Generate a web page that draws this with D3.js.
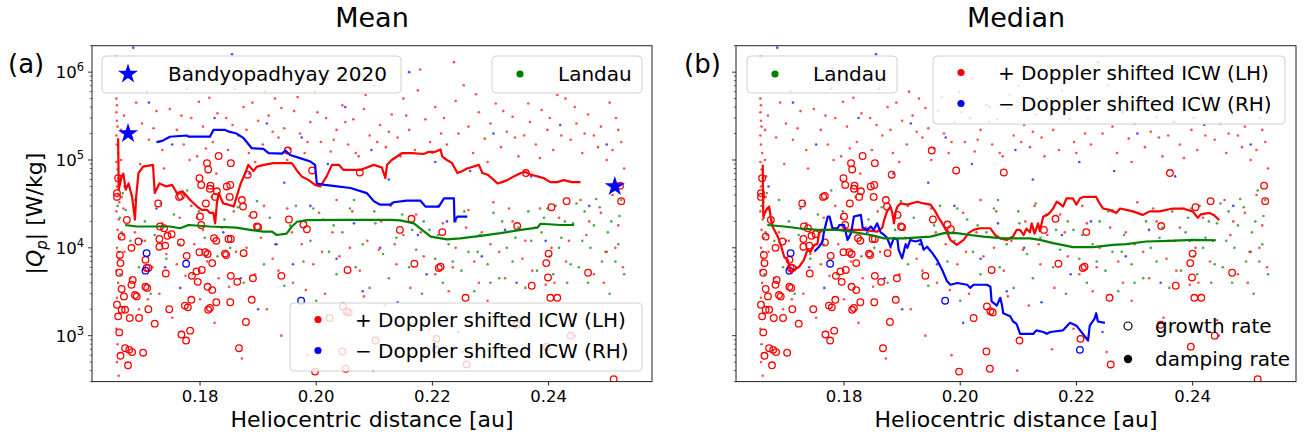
<!DOCTYPE html>
<html>
<head>
<meta charset="utf-8">
<script src="https://cdn.jsdelivr.net/npm/d3@7"></script>
<style>
body { margin: 0; background: #fff; }
svg { font-family: "DejaVu Sans", sans-serif; }
</style>
</head>
<body>
<svg id="chart" width="1315" height="441"></svg>
<script>
// individual events, same in both panels: [distance au, |Qp| W/kg]
const redDots = [
[0.1656,5.0e5],[0.1657,4.2e5],[0.1656,3.5e5],[0.1657,2.8e5],[0.1658,2.4e5],[0.1656,1.9e5],[0.1657,1.5e5],[0.1659,1.2e5],[0.1656,9.5e4],[0.1658,7.8e4],
[0.1660,6.2e4],[0.1657,5.0e4],[0.1659,4.1e4],[0.1661,3.3e4],[0.1656,2.6e4],[0.1660,2.1e4],[0.1658,1.6e4],[0.1662,1.3e4],[0.1657,1.0e4],[0.1660,7.5e3],
[0.1656,5.5e3],[0.1659,4.0e3],[0.1657,2.7e3],[0.1661,1.8e3],[0.1656,1.2e3],[0.1658,8.0e2],[0.1657,5.0e2],[0.1660,3.5e2],[0.1664,1.0e5],[0.1666,6.5e4],
[0.1665,3.8e4],[0.1668,2.8e4],[0.1667,1.4e4],[0.1670,9.0e3],[0.1664,2.2e5],[0.1669,3.2e5],[0.1656,1.5e6],
[0.1690,4.5e5],[0.1700,2.6e5],[0.1712,1.7e5],[0.1725,3.6e5],[0.1735,1.3e5],[0.1748,3.8e5],[0.1760,2.2e5],[0.1772,1.5e5],[0.1778,6.5e5],[0.1785,3.0e5],
[0.1795,1.1e5],[0.1805,2.4e5],[0.1816,5.1e5],[0.1822,1.6e5],[0.1830,3.4e5],[0.1840,8.0e5],[0.1848,1.3e5],[0.1856,2.5e5],[0.1866,1.9e5],[0.1875,4.0e5],
[0.1884,1.2e5],[0.1890,4.5e5],[0.1900,2.8e5],[0.1908,1.5e5],[0.1918,3.2e5],[0.1929,5.0e5],[0.1935,1.8e5],[0.1945,2.3e5],[0.1955,1.35e5],[0.1962,3.6e5],
[0.1972,2.0e5],[0.1980,1.2e5],[0.1990,2.7e5],[0.1998,6.0e5],[0.2008,1.6e5],[0.2017,3.0e5],[0.2025,1.25e5],[0.2035,2.2e5],[0.2045,4.2e5],[0.2055,1.5e5],
[0.2064,2.9e5],[0.2073,1.1e5],[0.2082,3.8e5],[0.2092,1.9e5],[0.2100,7.0e5],[0.2110,2.5e5],[0.2120,1.4e5],[0.2130,3.3e5],[0.2140,1.8e5],[0.2150,5.0e5],
[0.2160,2.2e5],[0.2170,1.3e5],[0.2179,1.07e6],[0.2188,2.9e5],[0.2196,1.6e5],[0.2205,4.0e5],[0.2215,2.0e5],[0.2225,1.5e5],[0.2237,1.3e6],[0.2240,4.7e5],
[0.2254,7.1e5],[0.2262,2.4e5],[0.2270,1.2e5],[0.2280,3.5e5],[0.2290,1.75e5],[0.2300,2.6e5],[0.2309,4.4e5],[0.2318,1.4e5],[0.2328,2.1e5],[0.2338,3.1e5],
[0.2348,1.1e5],[0.2358,1.9e5],[0.2368,2.7e5],[0.2378,1.5e5],[0.2388,3.7e5],[0.2398,2.2e5],[0.2408,1.3e5],[0.2415,5.5e5],[0.2429,5.0e5],[0.2438,1.7e5],
[0.2448,2.6e5],[0.2458,1.2e5],[0.2468,3.3e5],[0.2478,1.9e5],[0.2490,2.4e5],[0.2500,1.0e5],[0.2510,1.3e5],[0.2516,3.0e5],[0.2525,1.6e5],[0.2530,8.0e4],
[0.1683,1.8e5],[0.1697,9.0e4],[0.1708,6.0e5],[0.1720,2.3e5],[0.1738,8.0e4],[0.1755,1.1e6],[0.1768,3.2e5],[0.1782,1.0e5],[0.1798,4.6e5],[0.1810,1.35e5],
[0.1828,7.0e4],[0.1845,3.0e5],[0.1860,6.5e5],[0.1880,2.2e5],[0.1895,9.5e4],[0.1912,6.0e5],[0.1925,2.1e5],[0.1940,3.9e5],[0.1950,1.0e5],[0.1968,5.2e5],
[0.1985,1.6e5],[0.2002,3.5e5],[0.2020,8.5e5],[0.2030,1.7e5],[0.2050,2.7e5],[0.2068,1.2e5],[0.2085,5.5e5],[0.2105,1.6e5],[0.2125,2.1e5],[0.2145,1.1e5],
[0.2155,3.2e5],[0.2175,6.2e5],[0.2200,1.2e5],[0.2220,3.0e5],[0.2245,2.0e5],[0.2275,5.6e5],[0.2295,9.5e4],[0.2322,3.6e5],[0.2342,1.8e5],[0.2365,4.4e5],
[0.2385,1.05e5],[0.2402,3.0e5],[0.2422,1.9e5],[0.2445,4.0e5],[0.2462,2.0e5],[0.2485,1.4e5],[0.2505,4.5e5],[0.2520,2.2e5],
[0.1680,4.5e3],[0.1695,2.0e3],[0.1705,1.2e4],[0.1718,6.0e3],[0.1730,3.0e3],[0.1742,8.5e3],[0.1752,1.6e3],[0.1765,2.2e4],[0.1775,4.8e3],[0.1790,1.1e4],
[0.1800,2.6e3],[0.1812,7.0e3],[0.1825,1.4e3],[0.1838,1.7e4],[0.1850,3.6e3],[0.1862,9.0e3],[0.1872,5.5e2],[0.1885,2.3e4],[0.1895,5.0e3],[0.1905,1.3e4],
[0.1915,2.0e3],[0.1925,7.5e3],[0.1940,1.0e3],[0.1950,2.8e4],[0.1960,4.0e3],[0.1975,1.1e4],[0.1985,6.0e2],[0.1995,6.5e3],[0.2005,2.5e4],[0.2015,3.0e3],
[0.2028,1.5e4],[0.2040,8.0e3],[0.2050,1.8e3],[0.2062,2.6e4],[0.2075,5.5e3],[0.2088,1.2e4],[0.2098,4.0e2],[0.2108,9.5e3],[0.2118,2.2e3],[0.2128,3.0e4],
[0.2138,6.5e3],[0.2150,1.4e4],[0.2162,3.5e3],[0.2172,2.4e4],[0.2185,8.0e3],[0.2195,1.2e3],[0.2205,5.0e3],[0.2218,1.9e4],[0.2228,3.2e3],[0.2240,1.0e4],
[0.2252,6.5e2],[0.2262,2.7e4],[0.2272,7.0e3],[0.2285,1.5e4],[0.2295,2.5e3],[0.2305,3.3e4],[0.2315,9.0e3],[0.2325,4.5e3],[0.2338,2.0e4],[0.2350,1.6e3],
[0.2360,1.2e4],[0.2372,5.5e3],[0.2385,2.8e4],[0.2395,3.8e3],[0.2405,1.0e4],[0.2418,2.2e4],[0.2430,7.0e3],[0.2442,1.5e3],[0.2455,3.5e4],[0.2465,1.4e4],
[0.2478,5.0e3],[0.2490,2.5e4],[0.2500,9.0e3],[0.2510,4.0e4],[0.2520,1.8e4],[0.2528,6.0e3],
[0.1688,1.5e4],[0.1710,2.6e3],[0.1735,1.9e4],[0.1760,6.5e3],[0.1785,3.0e4],[0.1805,1.6e4],[0.1832,4.5e3],[0.1858,2.6e4],[0.1880,1.0e4],[0.1910,3.0e4],
[0.1935,5.5e3],[0.1958,1.5e4],[0.1982,3.3e3],[0.2010,9.0e3],[0.2035,3.5e4],[0.2058,1.0e4],[0.2082,2.8e3],[0.2112,2.0e4],[0.2135,1.1e4],[0.2158,7.0e2],
[0.2180,1.5e4],[0.2210,3.0e4],[0.2235,6.0e3],[0.2258,1.7e4],[0.2280,4.0e3],[0.2300,1.1e4],[0.2332,2.8e4],[0.2355,7.5e3],[0.2378,1.7e4],[0.2410,4.0e3],
[0.2435,1.2e4],[0.2470,2.0e4],[0.2495,4.0e3],[0.2515,1.0e4]
];
const greenDots = [
[0.1658,3.0e4],[0.1662,2.2e4],[0.1665,1.5e4],[0.1660,9.0e3],[0.1663,5.0e3],[0.1667,4.2e4],[0.1672,2.7e4],[0.1680,1.2e4],[0.1688,3.5e4],[0.1695,6.0e3],
[0.1705,2.0e4],[0.1715,3.0e3],[0.1722,1.4e4],[0.1732,3.2e4],[0.1742,7.5e3],[0.1755,2.4e4],[0.1765,1.1e4],[0.1778,4.5e4],[0.1788,5.0e3],[0.1798,2.6e4],
[0.1808,1.3e4],[0.1820,3.8e4],[0.1830,8.0e3],[0.1842,2.1e4],[0.1852,1.0e4],[0.1865,2.9e4],[0.1875,4.0e3],[0.1888,1.6e4],[0.1898,3.4e4],[0.1910,6.5e3],
[0.1920,2.2e4],[0.1932,1.1e4],[0.1945,3.7e3],[0.1955,1.8e4],[0.1965,3.0e4],[0.1978,7.0e3],[0.1990,1.2e4],[0.2000,2.5e3],[0.2012,2.1e4],[0.2022,9.0e3],
[0.2035,5.0e3],[0.2045,1.5e4],[0.2058,2.8e4],[0.2068,6.0e3],[0.2080,1.1e4],[0.2092,3.5e3],[0.2102,1.9e4],[0.2115,8.5e3],[0.2125,4.5e3],[0.2138,1.3e4],
[0.2148,2.4e4],[0.2160,6.0e3],[0.2172,9.5e3],[0.2182,3.0e3],[0.2195,1.6e4],[0.2205,7.5e3],[0.2218,4.0e3],[0.2228,1.1e4],[0.2240,2.0e4],[0.2250,5.5e3],
[0.2262,9.0e3],[0.2272,3.2e3],[0.2282,1.4e4],[0.2295,6.5e3],[0.2305,2.5e4],[0.2315,4.5e3],[0.2328,1.0e4],[0.2338,7.0e3],[0.2348,1.7e4],[0.2360,3.5e3],
[0.2370,1.2e4],[0.2380,5.5e3],[0.2392,2.2e4],[0.2402,8.0e3],[0.2412,3.0e4],[0.2422,1.3e4],[0.2432,4.0e3],[0.2442,1.9e4],[0.2452,6.0e3],[0.2462,2.6e4],
[0.2472,1.0e4],[0.2482,3.6e4],[0.2492,7.0e3],[0.2502,1.5e4],[0.2512,4.5e4],[0.2522,2.3e4],[0.2530,5.0e3],[0.2520,1.1e4],[0.2505,3.0e3],
[0.2388,1.5e4],[0.2398,2.8e4],[0.2408,5.0e3],[0.2418,1.0e4],[0.2428,2.0e4],[0.2438,6.5e3],[0.2448,3.2e4],[0.2458,1.2e4],[0.2468,4.0e3],[0.2478,1.8e4],
[0.2488,2.9e4],[0.2498,9.0e3],[0.2508,2.0e4],[0.2515,7.0e3],[0.2525,3.5e4],[0.2185,2.0e4],[0.2210,1.4e4],[0.2235,7.0e3],[0.2255,2.6e4],[0.2278,9.0e3],
[0.2300,4.0e3],[0.2320,2.0e4],[0.2343,1.3e4],[0.2365,2.6e4],[0.1995,2.8e4],[0.2030,1.8e4],[0.2065,3.5e4],[0.2100,2.6e4],[0.2130,3.2e4],[0.2165,1.6e4]
];
const blueDots = [
[0.1670,5.0e4],[0.1685,1.9e6],[0.1700,1.2e4],[0.1712,4.5e5],[0.1725,2.8e4],[0.1740,6.0e3],[0.1752,1.5e5],[0.1766,3.5e3],[0.1780,1.1e6],[0.1795,2.2e4],
[0.1810,8.0e3],[0.1825,3.0e5],[0.1840,1.5e4],[0.1855,1.6e6],[0.1870,4.5e3],[0.1885,7.0e4],[0.1900,2.0e3],[0.1915,2.6e5],[0.1930,1.1e4],[0.1945,5.5e4],
[0.1960,6.5e3],[0.1975,1.8e5],[0.1990,3.0e4],[0.2005,1.4e3],[0.2020,9.0e4],[0.2035,7.5e3],[0.2050,4.0e5],[0.2065,1.9e4],[0.2080,3.2e3],[0.2095,1.3e5],
[0.2110,1.0e4],[0.2125,6.0e4],[0.2140,2.4e3],[0.2160,1.0e6],[0.2175,1.4e4],[0.2190,5.0e3],[0.2205,9.5e4],[0.2225,2.0e4],[0.2245,1.1e3],[0.2265,7.5e4],
[0.2285,8.0e3],[0.2305,2.0e5],[0.2325,1.6e4],[0.2345,4.0e3],[0.2370,6.5e4],[0.2395,1.2e4],[0.2420,2.5e5],[0.2445,1.0e3],[0.2470,3.0e4],[0.2500,1.5e5]
];
// growth-rate events (open circles)
const redRings = [
[0.1674,2.08e4],[0.1665,1.34e4],[0.1662,8.3e3],[0.1663,6.7e3],[0.1661,5.2e3],[0.1665,3.4e3],[0.1669,2.8e3],[0.1657,2.25e3],[0.1665,1.97e3],[0.1671,1.97e3],
[0.1679,1.59e3],[0.1659,1.66e3],[0.1661,1.09e3],[0.1671,7.2e2],[0.1678,6.9e2],[0.1683,6.5e2],[0.1663,5.9e2],[0.1676,4.6e2],[0.1682,3.8e3],[0.1684,4.3e3],
[0.1688,2.9e3],[0.1691,2.8e3],[0.1694,1.18e4],[0.1695,1.59e3],[0.1682,1.0e4],[0.1702,6.4e2],[0.1706,7.3e3],[0.1708,5.9e3],[0.1711,5.9e3],[0.1706,3.6e3],
[0.1709,3.5e3],[0.1711,2.0e3],[0.1722,1.37e3],[0.1730,1.03e4],[0.1740,1.06e4],[0.1730,1.26e4],[0.1741,5.1e3],[0.1731,1.75e4],[0.1744,1.37e4],[0.1747,2.0e3],
[0.1751,1.43e4],[0.1738,1.67e4],[0.1768,1.03e3],[0.1767,1.15e4],[0.1774,2.2e3],[0.1779,2.1e3],[0.1777,8.1e3],[0.1776,8.8e2],[0.1783,1.14e3],[0.1786,4.8e3],
[0.1794,5.4e3],[0.1796,4.1e3],[0.1803,5.6e3],[0.1799,8.9e3],[0.1802,1.82e4],[0.1809,8.9e3],[0.1813,8.5e3],[0.1785,2.56e3],[0.1814,1.97e3],[0.1817,2.07e3],
[0.1813,3.6e3],[0.1821,3.3e3],[0.1824,1.29e4],[0.1828,1.2e4],[0.1821,6.7e3],[0.1828,2.4e3],[0.1843,8.6e3],[0.1845,8.3e3],[0.1849,1.26e4],[0.1853,1.26e4],
[0.1852,2.4e3],[0.1853,4.8e3],[0.1864,4.1e3],[0.1867,7.2e2],[0.1875,8.7e3],[0.1879,1.43e3],[0.1891,4.5e3],[0.1889,2.56e3],[0.1900,1.72e4],[0.1940,4.8e3],
[0.1953,2.1e4],[0.1998,3.9e2],
[0.1659,6.2e4],[0.1657,4.2e4],[0.1728,3.2e4],[0.1799,6.2e4],[0.1802,5.2e4],[0.1812,9.2e4],[0.1832,1.11e5],[0.1818,5.1e4],[0.1829,4.4e4],[0.1851,3.8e4],
[0.1846,5.0e4],[0.1852,5.2e4],[0.1810,3.2e4],[0.1882,6.8e4],[0.1874,2.95e4],[0.1892,2.37e4],[0.1800,2.27e4],[0.1767,3.9e4],[0.1853,9.2e4],[0.1814,7.8e4],
[0.1817,4.7e4],[0.1826,3.8e4],[0.1872,3.5e4],[0.1764,3.8e4],[0.1898,1.75e4],[0.1951,1.28e5],[0.1993,7.6e4],[0.2075,7.2e4],[0.1657,3.8e4],[0.1978,1.84e4],
[0.1984,1.63e4],
[0.2164,2.14e4],[0.2144,1.6e4],[0.2217,1.51e4],[0.2346,1.77e4],[0.2405,2.9e4],[0.2431,3.4e4],[0.2523,5.1e4],[0.2525,3.4e4],[0.2400,8.6e3],[0.2169,6.6e3],
[0.2054,5.6e3],[0.2211,5.9e3],[0.2214,6.1e3],[0.2396,6.7e3],[0.2399,4.6e3],[0.2371,3.7e3],[0.2403,2.7e3],[0.2415,2.7e3],[0.2468,5.2e3],[0.2257,2.7e3],
[0.2512,3.2e2],[0.2207,9.2e2],[0.2102,8.8e2],[0.2397,7.5e2],[0.2438,1.0e3],[0.2259,4.7e2],[0.2345,1.33e3],[0.2056,1.84e3],[0.2046,2.15e3],[0.2052,1.9e3],
[0.2023,1.59e3],[0.2045,6.6e2],[0.2051,4.2e2],[0.2361,7.1e4]
];
const blueRings = [[0.1708,8.7e3],[0.1706,5.5e3],[0.1776,6.6e3],[0.1974,2.5e3],[0.2206,6.9e2]];
const stars = [[0.1676,2.0e5],[0.2514,5.0e4]];

// running mean (a) and median (b) curves
const meanRed = [
[0.1659,1.77e5],[0.1660,4.6e4],[0.1665,6.5e4],[0.1668,7.0e4],[0.1672,4.6e4],[0.1677,5.4e4],[0.1683,3.8e4],[0.1688,2.1e4],[0.1690,3.8e4],[0.1694,7.1e4],
[0.1702,8.4e4],[0.1719,8.8e4],[0.1722,4.2e4],[0.1730,5.4e4],[0.1742,5.0e4],[0.1752,5.2e4],[0.1760,4.2e4],[0.1770,4.4e4],[0.1783,3.5e4],[0.1795,2.95e4],
[0.1803,2.7e4],[0.1812,2.7e4],[0.1817,2.5e4],[0.1823,2.5e4],[0.1826,1.9e4],[0.1829,3.2e4],[0.1832,4.2e4],[0.1840,3.2e4],[0.1849,3.1e4],[0.1858,2.95e4],
[0.1863,3.8e4],[0.1870,5.4e4],[0.1878,7.1e4],[0.1883,8.8e4],[0.1892,7.5e4],[0.1898,8.4e4],[0.1910,8.8e4],[0.1926,9.2e4],[0.1958,9.2e4],[0.1966,7.7e4],
[0.1975,6.5e4],[0.1987,5.9e4],[0.1998,5.2e4],[0.2007,5.0e4],[0.2018,6.5e4],[0.2027,8.8e4],[0.2039,8.8e4],[0.2047,7.7e4],[0.2076,7.7e4],[0.2099,8.8e4],
[0.2113,8.2e4],[0.2119,6.2e4],[0.2122,8.8e4],[0.2130,1.0e5],[0.2148,1.2e5],[0.2165,1.2e5],[0.2185,1.17e5],[0.2194,1.24e5],[0.2205,1.24e5],[0.2214,1.32e5],
[0.2217,1.09e5],[0.2225,1.0e5],[0.2234,9.2e4],[0.2243,7.1e4],[0.2250,7.4e4],[0.2260,8.0e4],[0.2280,8.8e4],[0.2286,7.1e4],[0.2295,6.8e4],[0.2306,5.9e4],
[0.2312,5.4e4],[0.2320,5.6e4],[0.2329,5.9e4],[0.2340,6.5e4],[0.2352,7.1e4],[0.2360,7.3e4],[0.2370,6.8e4],[0.2381,6.5e4],[0.2392,6.2e4],[0.2403,5.6e4],
[0.2415,5.6e4],[0.2426,5.9e4],[0.2440,5.6e4],[0.2455,5.6e4]
];
const meanBlue = [
[0.1725,1.6e5],[0.1735,1.65e5],[0.1748,1.84e5],[0.1777,1.9e5],[0.1780,1.84e5],[0.1817,1.84e5],[0.1823,2.2e5],[0.1843,2.2e5],[0.1850,2.1e5],[0.1863,2.0e5],
[0.1875,1.77e5],[0.1889,1.36e5],[0.1909,1.34e5],[0.1918,1.2e5],[0.1941,1.18e5],[0.1947,1.28e5],[0.1955,1.14e5],[0.1972,1.05e5],[0.1990,9.6e4],[0.1998,8.8e4],
[0.2001,5.4e4],[0.2015,5.2e4],[0.2036,5.0e4],[0.2059,4.8e4],[0.2087,4.2e4],[0.2099,3.4e4],[0.2110,3.1e4],[0.2128,3.1e4],[0.2133,3.3e4],[0.2156,3.45e4],
[0.2179,3.45e4],[0.2188,2.95e4],[0.2211,2.95e4],[0.2220,3.65e4],[0.2237,3.65e4],[0.2238,2.0e4],[0.2243,2.27e4],[0.2260,2.27e4]
];
const meanGreen = [
[0.1671,1.82e4],[0.1691,1.75e4],[0.1748,1.75e4],[0.1766,1.67e4],[0.1780,1.82e4],[0.1817,1.75e4],[0.1863,1.7e4],[0.1886,1.6e4],[0.1909,1.53e4],[0.1924,1.53e4],
[0.1932,1.4e4],[0.1949,1.45e4],[0.1958,1.75e4],[0.1967,1.98e4],[0.1984,2.07e4],[0.2047,2.08e4],[0.2128,2.08e4],[0.2145,2.05e4],[0.2168,1.9e4],[0.2197,1.34e4],
[0.2225,1.25e4],[0.2248,1.28e4],[0.2283,1.37e4],[0.2317,1.47e4],[0.2352,1.6e4],[0.2381,1.7e4],[0.2386,1.88e4],[0.2421,1.82e4],[0.2444,1.82e4]
];
const medRed = [
[0.1660,8.8e4],[0.1661,2.27e4],[0.1666,2.7e4],[0.1671,2.95e4],[0.1674,2.2e4],[0.1677,1.75e4],[0.1686,1.34e4],[0.1692,1.03e4],[0.1697,7.9e3],[0.1703,7.3e3],
[0.1709,5.2e3],[0.1714,5.6e3],[0.1723,6.1e3],[0.1731,7.3e3],[0.1737,9.5e3],[0.1742,9.0e3],[0.1749,1.08e4],[0.1754,1.1e4],[0.1757,1.47e4],[0.1763,1.6e4],
[0.1800,1.6e4],[0.1834,1.6e4],[0.1857,1.53e4],[0.1866,1.7e4],[0.1869,2.07e4],[0.1874,2.6e4],[0.1880,2.95e4],[0.1883,2.5e4],[0.1886,1.9e4],[0.1889,2.6e4],
[0.1892,2.95e4],[0.1897,3.2e4],[0.1909,3.1e4],[0.1926,3.35e4],[0.1937,3.2e4],[0.1949,3.1e4],[0.1957,2.6e4],[0.1963,2.2e4],[0.1969,1.9e4],[0.1977,1.53e4],
[0.1983,1.23e4],[0.1994,1.08e4],[0.2006,1.23e4],[0.2014,1.47e4],[0.2023,1.6e4],[0.2034,1.67e4],[0.2052,1.67e4],[0.2060,1.4e4],[0.2069,1.28e4],[0.2080,1.23e4],
[0.2091,1.35e4],[0.2097,1.6e4],[0.2103,1.6e4],[0.2109,1.4e4],[0.2114,1.65e4],[0.2120,1.5e4],[0.2123,1.9e4],[0.2128,1.45e4],[0.2134,1.9e4],[0.2137,1.55e4],
[0.2143,2.27e4],[0.2150,2.37e4],[0.2154,2.5e4],[0.2160,2.8e4],[0.2166,3.35e4],[0.2171,3.2e4],[0.2177,2.95e4],[0.2183,3.65e4],[0.2194,3.65e4],[0.2200,3.1e4],
[0.2206,3.65e4],[0.2212,3.8e4],[0.2234,3.8e4],[0.2240,3.2e4],[0.2246,2.8e4],[0.2257,2.7e4],[0.2269,2.5e4],[0.2275,2.8e4],[0.2286,2.7e4],[0.2297,2.6e4],
[0.2314,2.37e4],[0.2326,2.6e4],[0.2343,2.6e4],[0.2366,2.8e4],[0.2383,2.8e4],[0.2400,2.6e4],[0.2409,2.2e4],[0.2414,2.4e4],[0.2429,2.5e4],[0.2437,2.35e4],
[0.2446,2.07e4]
];
const medBlue = [
[0.1749,9.1e3],[0.1757,1.03e4],[0.1763,1.18e4],[0.1765,1.47e4],[0.1772,2.27e4],[0.1775,2.27e4],[0.1780,1.67e4],[0.1789,1.67e4],[0.1792,1.82e4],[0.1800,1.82e4],
[0.1806,1.23e4],[0.1812,1.47e4],[0.1817,2.27e4],[0.1829,2.37e4],[0.1832,1.7e4],[0.1840,1.6e4],[0.1846,1.75e4],[0.1851,1.6e4],[0.1857,1.9e4],[0.1863,1.5e4],
[0.1869,1.4e4],[0.1874,1.3e4],[0.1880,1.03e4],[0.1886,1.3e4],[0.1892,1.23e4],[0.1894,9.5e3],[0.1900,7.6e3],[0.1906,1.1e4],[0.1909,1.0e4],[0.1914,1.23e4],
[0.1923,1.18e4],[0.1932,1.23e4],[0.1937,9.5e3],[0.1943,1.03e4],[0.1952,8.7e3],[0.1960,7.3e3],[0.1969,5.6e3],[0.1977,4.2e3],[0.1983,3.8e3],[0.1995,3.98e3],
[0.2012,3.8e3],[0.2017,3.5e3],[0.2023,3.8e3],[0.2046,3.8e3],[0.2052,3.6e3],[0.2054,2.45e3],[0.2063,2.2e3],[0.2069,2.7e3],[0.2072,2.2e3],[0.2074,1.8e3],
[0.2086,1.66e3],[0.2091,1.45e3],[0.2097,1.36e3],[0.2103,1.05e3],[0.2126,1.05e3],[0.2131,1.15e3],[0.2143,1.1e3],[0.2149,1.05e3],[0.2155,1.1e3],[0.2177,1.15e3],
[0.2189,1.4e3],[0.2200,1.3e3],[0.2220,8.8e2],[0.2223,1.3e3],[0.2231,1.55e3],[0.2234,1.8e3],[0.2237,1.45e3],[0.2249,1.4e3]
];
const medGreen = [
[0.1668,1.82e4],[0.1697,1.75e4],[0.1722,1.67e4],[0.1754,1.6e4],[0.1789,1.6e4],[0.1811,1.53e4],[0.1846,1.4e4],[0.1869,1.28e4],[0.1903,1.28e4],[0.1949,1.34e4],
[0.1972,1.47e4],[0.1994,1.47e4],[0.2017,1.4e4],[0.2040,1.34e4],[0.2074,1.28e4],[0.2120,1.28e4],[0.2137,1.23e4],[0.2160,1.13e4],[0.2194,1.02e4],[0.2229,1.02e4],
[0.2263,1.08e4],[0.2286,1.1e4],[0.2320,1.18e4],[0.2360,1.2e4],[0.2400,1.23e4],[0.2440,1.22e4]
];

const xTicks = [0.18, 0.20, 0.22, 0.24];
const yTicks = [1e3, 1e4, 1e5, 1e6];
const xDomain = [0.1614, 0.2578];
const yDomain = [300, 2e6];

const svg = d3.select("#chart");
const plotTop = 45.7, plotBottom = 381.6, plotW = 560;
const y = d3.scaleLog().domain(yDomain).range([plotBottom, plotTop]);

function legendBox(g, x0, y0, w, h) {
    g.append("rect")
        .attr("x", x0).attr("y", y0)
        .attr("width", w).attr("height", h)
        .attr("rx", 4)
        .attr("fill", "#fff").attr("fill-opacity", 0.8)
        .attr("stroke", "#d0d0d0");
}

function legendText(g, x0, y0, txt) {
    g.append("text")
        .attr("x", x0).attr("y", y0 + 7)
        .attr("font-size", 20)
        .text(txt);
}

function icwLegend(g, x0, y0) {
    legendBox(g, x0, y0, 352, 68);
    g.append("circle").attr("cx", x0 + 28).attr("cy", y0 + 16.5).attr("r", 3.6).attr("fill", "red");
    g.append("circle").attr("cx", x0 + 28).attr("cy", y0 + 47.5).attr("r", 3.6).attr("fill", "blue");
    legendText(g, x0 + 65, y0 + 16.5, "+ Doppler shifted ICW (LH)");
    legendText(g, x0 + 65, y0 + 47.5, "\u2212 Doppler shifted ICW (RH)");
}

function landauLegend(g, x0, y0) {
    legendBox(g, x0, y0, 150, 37);
    g.append("circle").attr("cx", x0 + 28).attr("cy", y0 + 18).attr("r", 3.6).attr("fill", "green");
    legendText(g, x0 + 66, y0 + 18, "Landau");
}

function drawPanel(p) {
    const left = p.left;
    const x = d3.scaleLinear().domain(xDomain).range([left, left + plotW]);
    const g = svg.append("g");

    const clipId = "clip" + p.tag.replace(/\W/g, "");
    g.append("clipPath").attr("id", clipId)
        .append("rect")
        .attr("x", left).attr("y", plotTop)
        .attr("width", plotW).attr("height", plotBottom - plotTop);

    const plot = g.append("g").attr("clip-path", "url(#" + clipId + ")");

    const dotSets = [[greenDots, "green"], [blueDots, "blue"], [redDots, "red"]];
    dotSets.forEach(([data, col]) => {
        plot.append("g")
            .selectAll("circle")
            .data(data)
            .join("circle")
            .attr("cx", d => x(d[0]))
            .attr("cy", d => y(d[1]))
            .attr("r", 1.3)
            .attr("fill", col)
            .attr("fill-opacity", 0.7);
    });

    [[redRings, "red"], [blueRings, "blue"]].forEach(([data, col]) => {
        plot.append("g")
            .selectAll("circle")
            .data(data)
            .join("circle")
            .attr("cx", d => x(d[0]))
            .attr("cy", d => y(d[1]))
            .attr("r", 3.3)
            .attr("fill", "none")
            .attr("stroke", col)
            .attr("stroke-width", 1.3);
    });

    const line = d3.line().x(d => x(d[0])).y(d => y(d[1]));
    p.lines.forEach(([data, col]) => {
        plot.append("path")
            .attr("d", line(data))
            .attr("fill", "none")
            .attr("stroke", col)
            .attr("stroke-width", 2.2)
            .attr("stroke-linejoin", "round");
    });

    if (p.stars) {
        plot.append("g")
            .selectAll("path")
            .data(stars)
            .join("path")
            .attr("transform", d => `translate(${x(d[0])},${y(d[1])})`)
            .attr("d", d3.symbol(d3.symbolStar).size(125))
            .attr("fill", "blue");
    }

    // frame
    g.append("rect")
        .attr("x", left).attr("y", plotTop)
        .attr("width", plotW).attr("height", plotBottom - plotTop)
        .attr("fill", "none")
        .attr("stroke", "#222")
        .attr("stroke-width", 1);

    // x ticks
    const xt = g.append("g");
    xTicks.forEach(t => {
        xt.append("line")
            .attr("x1", x(t)).attr("x2", x(t))
            .attr("y1", plotBottom).attr("y2", plotBottom + 4)
            .attr("stroke", "#222");
        xt.append("text")
            .attr("x", x(t)).attr("y", plotBottom + 20)
            .attr("text-anchor", "middle")
            .attr("font-size", 16.5)
            .text(d3.format(".2f")(t));
    });

    // y ticks (log, with minor ticks)
    const yt = g.append("g");
    y.ticks().forEach(t => {
        const major = yTicks.includes(t);
        yt.append("line")
            .attr("x1", left - (major ? 4 : 2.2)).attr("x2", left)
            .attr("y1", y(t)).attr("y2", y(t))
            .attr("stroke", "#222")
            .attr("stroke-width", major ? 0.9 : 0.7);
    });
    if (p.yLabels) {
        yTicks.forEach(t => {
            const txt = yt.append("text")
                .attr("x", left - 8).attr("y", y(t) + 6)
                .attr("text-anchor", "end")
                .attr("font-size", 16.5);
            txt.append("tspan").text("10");
            txt.append("tspan")
                .attr("dy", -7)
                .attr("font-size", 11.5)
                .text(Math.round(Math.log10(t)));
        });
        const yl = g.append("text")
            .attr("transform", `translate(42,${(plotTop + plotBottom) / 2}) rotate(-90)`)
            .attr("text-anchor", "middle")
            .attr("font-size", 22);
        yl.append("tspan").text("|");
        yl.append("tspan").attr("font-style", "italic").text("Q");
        yl.append("tspan").attr("font-style", "italic").attr("font-size", 15).attr("dy", 5).text("p");
        yl.append("tspan").attr("dy", -5).text("| [W/kg]");
    }

    g.append("text")
        .attr("x", left + plotW / 2).attr("y", 427)
        .attr("text-anchor", "middle")
        .attr("font-size", 22)
        .text("Heliocentric distance [au]");

    g.append("text")
        .attr("x", left + plotW / 2).attr("y", 27)
        .attr("text-anchor", "middle")
        .attr("font-size", 27)
        .text(p.title);

    g.append("text")
        .attr("x", p.tagX).attr("y", 73)
        .attr("font-size", 26)
        .text(p.tag);

    p.legends(g);
}

drawPanel({
    left: 92, title: "Mean", tag: "(a)", tagX: 8, yLabels: true, stars: true,
    lines: [[meanRed, "red"], [meanBlue, "blue"], [meanGreen, "green"]],
    legends: g => {
        legendBox(g, 102, 56, 299, 37);
        g.append("path")
            .attr("transform", "translate(128,74)")
            .attr("d", d3.symbol(d3.symbolStar).size(125))
            .attr("fill", "blue");
        legendText(g, 168, 74, "Bandyopadhyay 2020");
        landauLegend(g, 492, 56);
        icwLegend(g, 290, 303);
    }
});

drawPanel({
    left: 736, title: "Median", tag: "(b)", tagX: 684, yLabels: false, stars: false,
    lines: [[medRed, "red"], [medBlue, "blue"], [medGreen, "green"]],
    legends: g => {
        landauLegend(g, 747, 56);
        icwLegend(g, 933, 56);
        g.append("circle").attr("cx", 1128).attr("cy", 326).attr("r", 4)
            .attr("fill", "none").attr("stroke", "#000").attr("stroke-width", 1.2);
        g.append("circle").attr("cx", 1128).attr("cy", 359).attr("r", 4.2).attr("fill", "#000");
        legendText(g, 1155, 326, "growth rate");
        legendText(g, 1155, 359, "damping rate");
    }
});
</script>
</body>
</html>
